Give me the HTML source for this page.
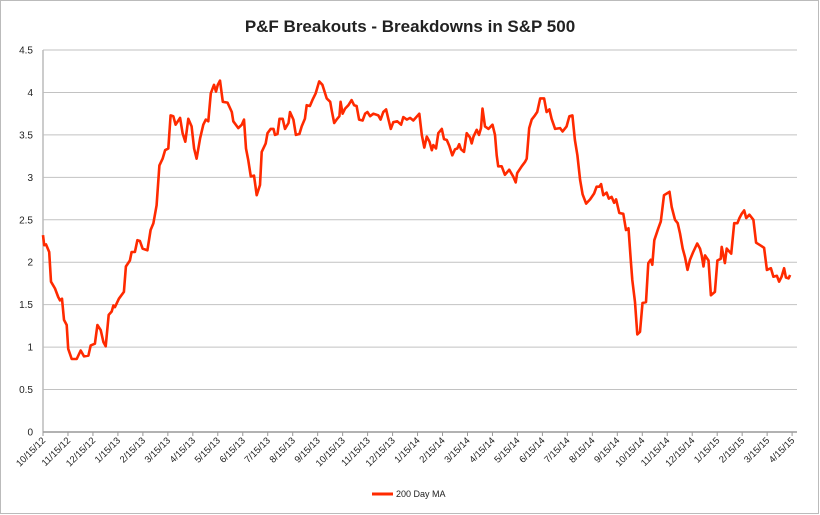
<!DOCTYPE html>
<html><head><meta charset="utf-8"><style>
html,body{margin:0;padding:0;background:#fff;}
svg{display:block;font-family:"Liberation Sans",sans-serif;}
</style></head><body>
<svg id="chart" width="820" height="515" viewBox="0 0 820 515">
<rect x="0.5" y="0.5" width="818" height="513" fill="#fff" stroke="#bbb"/>
<text x="410" y="32" text-anchor="middle" font-size="17" font-weight="bold" fill="#222">P&amp;F Breakouts - Breakdowns in S&amp;P 500</text>
<g id="grid"></g><g id="axes"></g><g id="series"></g>
<g>
<line x1="372" y1="494" x2="393" y2="494" stroke="#ff2a00" stroke-width="3"/>
<text x="396" y="497" font-size="9" fill="#222">200 Day MA</text>
</g>
</svg>
<script>
const monthLabels=["10/15/12","11/15/12","12/15/12","1/15/13","2/15/13","3/15/13","4/15/13","5/15/13","6/15/13","7/15/13","8/15/13","9/15/13","10/15/13","11/15/13","12/15/13","1/15/14","2/15/14","3/15/14","4/15/14","5/15/14","6/15/14","7/15/14","8/15/14","9/15/14","10/15/14","11/15/14","12/15/14","1/15/15","2/15/15","3/15/15","4/15/15"];
const yTicks=[0,0.5,1,1.5,2,2.5,3,3.5,4,4.5];
const monthOffsets=[0,0.05,0.12,0.25,0.32,0.48,0.61,0.68,0.76,0.84,0.95,1.01,1.15,1.35,1.51,1.64,1.82,1.91,2.08,2.18,2.31,2.42,2.51,2.63,2.75,2.82,2.88,3.04,3.24,3.32,3.48,3.55,3.68,3.78,3.88,3.99,4.18,4.31,4.42,4.55,4.66,4.79,4.89,5.02,5.11,5.22,5.31,5.49,5.59,5.70,5.82,5.95,6.05,6.15,6.29,6.42,6.52,6.62,6.72,6.85,6.93,7.00,7.09,7.20,7.39,7.56,7.62,7.82,7.96,8.05,8.13,8.22,8.32,8.45,8.56,8.69,8.76,8.92,8.99,9.12,9.23,9.29,9.39,9.47,9.60,9.69,9.83,9.89,10.03,10.13,10.27,10.36,10.49,10.56,10.69,10.79,10.92,11.06,11.19,11.36,11.50,11.56,11.66,11.76,11.87,11.92,12.00,12.10,12.23,12.36,12.46,12.56,12.66,12.80,12.90,12.99,13.10,13.23,13.43,13.52,13.63,13.74,13.83,13.93,14.03,14.19,14.34,14.43,14.57,14.70,14.83,15.07,15.17,15.27,15.37,15.48,15.57,15.63,15.74,15.83,15.97,16.06,16.17,16.27,16.39,16.50,16.59,16.67,16.74,16.86,16.97,17.10,17.17,17.24,17.37,17.46,17.54,17.60,17.70,17.84,18.00,18.10,18.17,18.23,18.37,18.50,18.67,18.83,18.93,18.99,19.17,19.30,19.37,19.47,19.57,19.70,19.79,19.91,20.07,20.17,20.28,20.37,20.51,20.71,20.81,20.97,21.08,21.20,21.30,21.40,21.51,21.61,21.75,21.91,22.07,22.17,22.28,22.35,22.44,22.57,22.66,22.77,22.87,22.95,23.08,23.24,23.35,23.45,23.54,23.60,23.71,23.80,23.91,24.01,24.15,24.24,24.34,24.40,24.48,24.64,24.74,24.87,24.98,25.09,25.18,25.31,25.42,25.51,25.62,25.71,25.81,25.91,26.04,26.20,26.31,26.38,26.45,26.51,26.65,26.75,26.91,27.01,27.14,27.18,27.31,27.38,27.56,27.68,27.81,27.89,27.98,28.08,28.16,28.29,28.45,28.56,28.72,28.88,28.99,29.15,29.25,29.39,29.48,29.58,29.68,29.75,29.86,29.92];
const maValues=[2.32,2.20,2.21,2.12,1.77,1.69,1.59,1.55,1.57,1.32,1.26,0.98,0.86,0.86,0.96,0.89,0.90,1.02,1.04,1.26,1.20,1.06,1.01,1.38,1.42,1.49,1.47,1.57,1.65,1.95,2.02,2.12,2.12,2.26,2.25,2.16,2.14,2.38,2.46,2.67,3.14,3.22,3.32,3.34,3.73,3.72,3.62,3.70,3.52,3.42,3.69,3.60,3.34,3.22,3.46,3.62,3.68,3.66,3.99,4.09,4.01,4.09,4.14,3.89,3.88,3.77,3.66,3.58,3.62,3.68,3.34,3.20,3.01,3.02,2.79,2.91,3.30,3.40,3.52,3.57,3.57,3.50,3.51,3.69,3.69,3.57,3.64,3.77,3.68,3.50,3.51,3.60,3.69,3.85,3.84,3.91,3.99,4.13,4.09,3.93,3.89,3.79,3.64,3.68,3.72,3.89,3.75,3.81,3.85,3.91,3.85,3.84,3.68,3.67,3.75,3.77,3.72,3.75,3.73,3.68,3.77,3.80,3.69,3.57,3.65,3.66,3.62,3.71,3.68,3.70,3.67,3.75,3.50,3.35,3.48,3.42,3.32,3.38,3.34,3.52,3.57,3.45,3.44,3.37,3.26,3.33,3.34,3.39,3.33,3.30,3.52,3.47,3.40,3.48,3.56,3.50,3.58,3.81,3.60,3.57,3.62,3.50,3.26,3.13,3.13,3.03,3.09,3.01,2.94,3.05,3.13,3.18,3.22,3.58,3.68,3.73,3.77,3.93,3.93,3.77,3.80,3.69,3.57,3.58,3.54,3.60,3.72,3.73,3.44,3.26,2.97,2.80,2.69,2.74,2.81,2.89,2.89,2.92,2.79,2.82,2.75,2.77,2.70,2.74,2.58,2.57,2.38,2.40,2.02,1.79,1.53,1.15,1.18,1.52,1.53,1.99,2.03,1.97,2.26,2.40,2.48,2.79,2.81,2.83,2.65,2.50,2.46,2.34,2.16,2.06,1.91,2.03,2.12,2.22,2.16,2.08,1.95,2.08,2.02,1.61,1.65,2.02,2.04,2.18,1.99,2.16,2.10,2.46,2.46,2.52,2.57,2.61,2.52,2.56,2.50,2.23,2.20,2.17,1.91,1.93,1.83,1.84,1.77,1.83,1.93,1.82,1.81,1.85];

const X0=43,X1=797,Y0=432,Y1=50,YMAX=4.5,MONTHPX=24.97;
const xs=m=>X0+m*MONTHPX;
const ys=v=>Y0-(v/YMAX)*(Y0-Y1);
const NS="http://www.w3.org/2000/svg";
function mk(tag,attrs,parent){const e=document.createElementNS(NS,tag);for(const k in attrs)e.setAttribute(k,attrs[k]);parent.appendChild(e);return e;}
const grid=document.getElementById('grid'),axes=document.getElementById('axes'),series=document.getElementById('series');
yTicks.forEach(t=>{
  if(t>0){const g=mk('line',{x1:X0,x2:X1,y1:ys(t),y2:ys(t),stroke:'#c2c2c2','stroke-width':1},grid);
  
  }
  const tx=mk('text',{x:X0-10,y:ys(t)+3.5,'text-anchor':'end','font-size':10,fill:'#222'},axes);
  tx.textContent=String(t);
  
  
});
const ya=mk('line',{x1:X0,x2:X0,y1:Y1,y2:Y0,stroke:'#bbb','stroke-width':1.5},axes);


const xa=mk('line',{x1:X0,x2:X1,y1:Y0,y2:Y0,stroke:'#999','stroke-width':1.5},axes);


monthLabels.forEach((lb,i)=>{
  const x=xs(i);
  const tk=mk('line',{x1:x,x2:x,y1:Y0,y2:Y0+4,stroke:'#999'},axes);
  
  
  const tx=mk('text',{x:x+3,y:Y0+9,'text-anchor':'end','font-size':9.5,fill:'#222',transform:`rotate(-45 ${x+3} ${Y0+9})`},axes);
  tx.textContent=lb;
  
  
});
const d=monthOffsets.map((m,i)=>(i?'L':'M')+xs(m).toFixed(1)+' '+ys(maValues[i]).toFixed(1)).join(' ');
const p=mk('path',{d:d,fill:'none',stroke:'#ff2a00','stroke-width':2.6,'stroke-linejoin':'round'},series);


</script>
</body></html>
